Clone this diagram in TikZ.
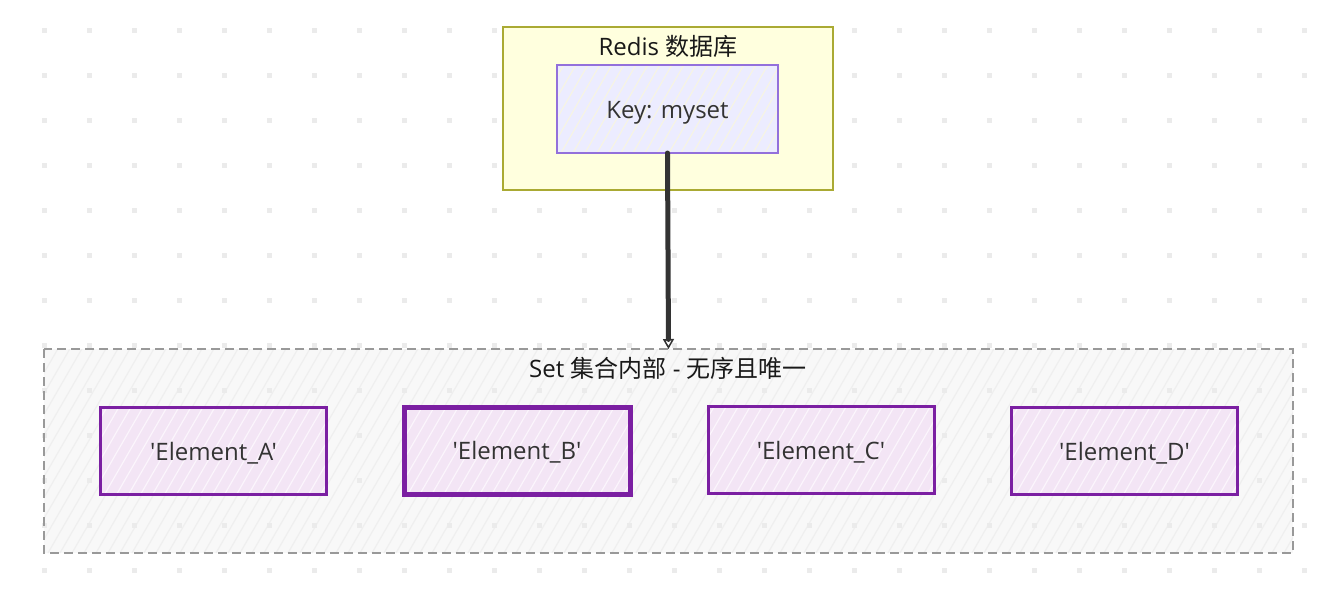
\documentclass[tikz,border=0pt]{standalone}
\usepackage{fontspec}
\newfontfamily\latin{Open Sans}
\newfontfamily\cjk{Noto Sans CJK SC}
\usetikzlibrary{arrows.meta}
\definecolor{dotc}{HTML}{EBEBEB}
\definecolor{redisfill}{HTML}{FFFFDE}
\definecolor{redisdraw}{HTML}{AAAA33}
\definecolor{keyfill}{HTML}{ECECFF}
\definecolor{keyhatch}{HTML}{F6F4E4}
\definecolor{keydraw}{HTML}{9370DB}
\definecolor{setfill}{HTML}{F8F8F8}
\definecolor{sethatch}{HTML}{EFEFEF}
\definecolor{setdraw}{HTML}{999999}
\definecolor{elfill}{HTML}{F3E5F5}
\definecolor{elhatch}{HTML}{FBF5FC}
\definecolor{eldraw}{HTML}{7B1FA2}
\definecolor{txt}{HTML}{333333}
\def\px{0.75pt}
\tikzset{
  boxbase/.style={rectangle, inner sep=0pt, outer sep=0pt},
  lowtext/.style={text height=13.5pt, text depth=0pt},
  hatch/.style={path picture={
     \foreach \k in {-200,-188,...,1300} {
       \draw[#1, line width=1.2*\px]
         ([xshift=\k*\px]path picture bounding box.south west) -- ++(60:300*\px);
     }}},
  redisbox/.style={boxbase, fill=redisfill, draw=redisdraw, line width=2*\px,
     minimum width=330*\px, minimum height=163*\px},
  keybox/.style={boxbase, lowtext, fill=keyfill, hatch=keyhatch, draw=keydraw, line width=1.5*\px,
     minimum width=221*\px, minimum height=88*\px, font=\latin\fontsize{18}{22}\selectfont, text=txt},
  setbox/.style={boxbase, fill=setfill, hatch=sethatch, minimum width=1249*\px, minimum height=204*\px},
  setborder/.style={draw=setdraw, line width=2*\px, dash pattern=on 9*\px off 5*\px},
  elbox/.style={boxbase, lowtext, fill=elfill, hatch=elhatch, draw=eldraw, line width=3*\px,
     minimum width=226*\px, minimum height=87*\px, font=\latin\fontsize{18}{22}\selectfont, text=txt},
  titletext/.style={inner sep=0pt, font=\latin\fontsize{18}{22}\selectfont, text=black!90},
  flow/.style={draw=txt, line width=5*\px, line cap=round,
     -{Triangle[open, length=10*\px, width=11*\px, line width=1.5*\px]}},
}
\begin{document}
\begin{tikzpicture}[x=\px, y=-\px]
\useasboundingbox (0,0) rectangle (1343,608);
\fill[white] (0,0) rectangle (1343,608);
% set container fill
\node[setbox] (set) at (668.5,451) {};
% dot grid
\foreach \i in {0,...,28} {
  \foreach \j in {0,...,12} {
    \fill[dotc] ({44+45*\i-2.5},{30+45*\j-2.5}) rectangle ++(5,5);
  }
}
\draw[setborder] (set.north west) rectangle (set.south east);
\node[titletext] (settitle) at (668,368) {Set {\cjk 集合内部} - {\cjk 无序且唯一}};
% redis container
\node[redisbox] (redis) at (668,108.5) {};
\node[titletext] (redistitle) at (668,46) {Redis {\cjk 数据库}};
\node[keybox] (key) at (667.5,109) {Key: myset};
% elements
\node[elbox] (ea) at (213.5,451) {'Element\_A'};
\node[elbox, line width=5*\px] (eb) at (517,450.5) {'Element\_B'};
\node[elbox] (ec) at (821,450) {'Element\_C'};
\node[elbox] (ed) at (1124.5,451) {'Element\_D'};
% connector
\draw[flow] (key.south) -- (set.north);
\end{tikzpicture}
\end{document}
